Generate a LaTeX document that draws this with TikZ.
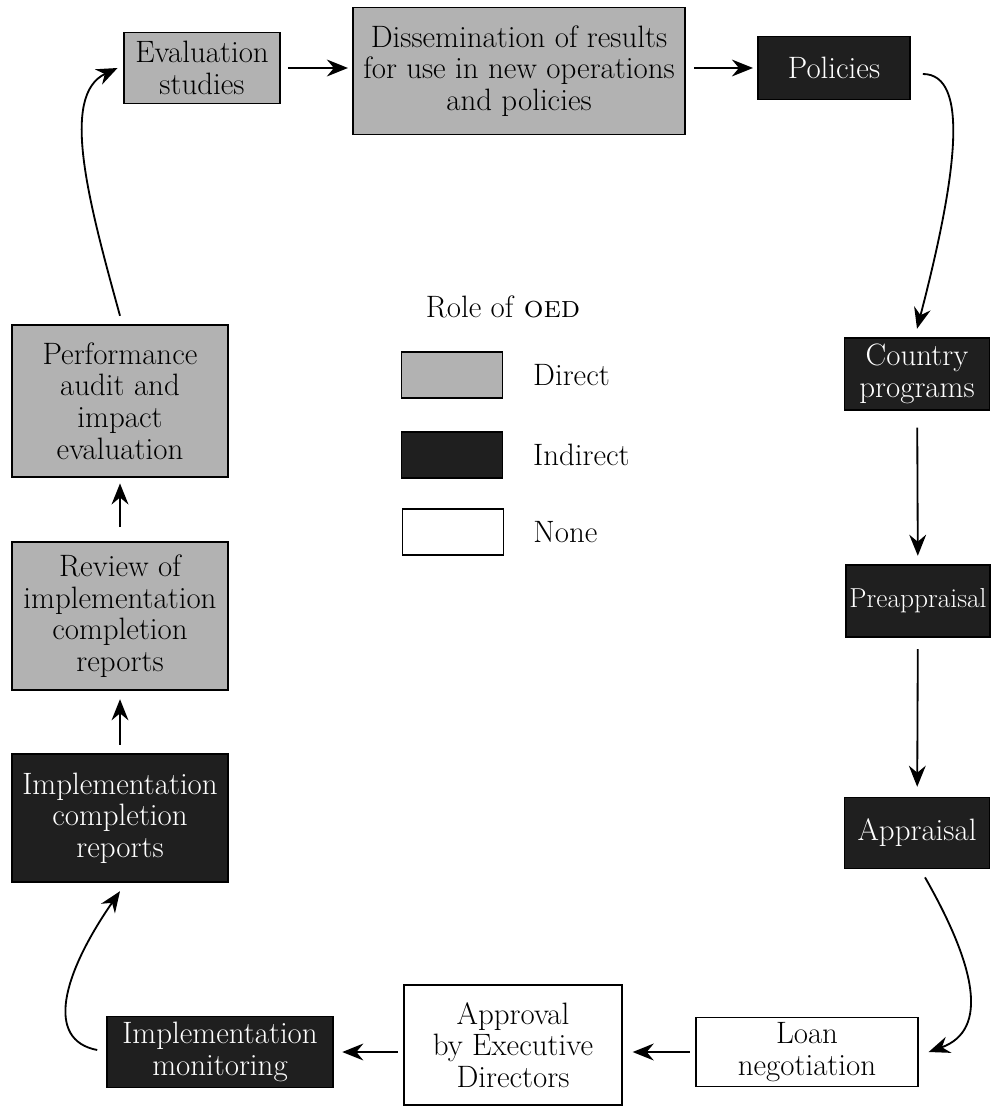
\documentclass[tikz,border=0pt]{standalone}
\usetikzlibrary{arrows.meta,positioning}

\tikzstyle{box}=[draw, line width=1.1pt, align=center, inner sep=0pt]
\tikzstyle{directrole}=[box, fill=black!30]
\tikzstyle{indirectrole}=[box, fill=black!88, text=white]
\tikzstyle{norole}=[box, fill=white]
\tikzstyle{legendbox}=[box, minimum width=2.53cm, minimum height=1.15cm]
\tikzstyle{link}=[line width=1.3pt, -{Stealth[length=15pt,width=12pt,inset=5pt]}]

\begin{document}
\begin{tikzpicture}[x=0.025cm, y=-0.025cm, font=\fontsize{22}{22.5}\selectfont]
\useasboundingbox (0,0) rectangle (990,1108);

% top row
\node[directrole, minimum width=3.9cm, minimum height=1.78cm] at (202,68) (eval) {Evaluation\\studies};
\node[directrole, minimum width=8.3cm, minimum height=3.18cm] at (519,71) (diss) {Dissemination of results\\for use in new operations\\and policies};
\node[indirectrole, minimum width=3.8cm, minimum height=1.58cm] at (834,68) (pol) {Policies};

% right column
\node[indirectrole, minimum width=3.63cm, minimum height=1.8cm] at (917,374) (country) {Country\\programs};
\node[indirectrole, minimum width=3.6cm, minimum height=1.8cm, font=\fontsize{19.5}{20}\selectfont] at (918,601) (preapp) {Preappraisal};
\node[indirectrole, minimum width=3.63cm, minimum height=1.78cm] at (917,833) (app) {Appraisal};

% bottom row
\node[norole, minimum width=5.55cm, minimum height=1.73cm] at (807,1052) (loan) {Loan\\negotiation};
\node[norole, minimum width=5.45cm, minimum height=3cm] at (513,1045) (approval) {Approval\\by Executive\\Directors};
\node[indirectrole, minimum width=5.65cm, minimum height=1.78cm] at (220,1052) (monit) {Implementation\\monitoring};

% left column
\node[indirectrole, minimum width=5.4cm, minimum height=3.2cm] at (120,818) (icr) {Implementation\\completion\\reports};
\node[directrole, minimum width=5.4cm, minimum height=3.7cm] at (120,616) (review) {Review of\\implementation\\completion\\reports};
\node[directrole, minimum width=5.4cm, minimum height=3.8cm] at (120,401) (perf) {Performance\\audit and\\impact\\evaluation};

% legend
\node at (503,307) (legtitle) {Role of \textsc{oed}};
\node[legendbox, directrole] at (452,375) (legdirect) {};
\node[legendbox, indirectrole] at (452,455) (legindirect) {};
\node[legendbox, norole] at (453,532) (legnone) {};
\node[right=0.62cm of legdirect] (legdirecttext) {Direct};
\node[right=0.62cm of legindirect] (legindirecttext) {Indirect};
\node[right=0.6cm of legnone] (legnonetext) {None};

% connectors
\draw[link, shorten <=5pt, shorten >=3pt] (eval.east) -- (eval.east -| diss.west);
\draw[link, shorten <=6pt, shorten >=3pt] (pol.west -| diss.east) -- (pol.west);
\draw[link] ([shift={(12,6)}]pol.east) .. controls (970,74) and (957,175) .. ([yshift=6pt]country.north);
\draw[link, shorten <=12pt, shorten >=6pt] (country) -- (preapp);
\draw[link, shorten <=8pt, shorten >=7pt] (preapp) -- (app);
\draw[link] ([shift={(8,8)}]app.south) .. controls (975,965) and (990,1030) .. ([xshift=7pt]loan.east);
\draw[link, shorten <=4pt, shorten >=7pt] (loan.west) -- (loan.west -| approval.east);
\draw[link, shorten <=4pt, shorten >=6pt] (monit.east -| approval.west) -- (monit.east);
\draw[link] ([shift={(-9,-2)}]monit.west) .. controls (45,1040) and (62,975) .. ([yshift=-6pt]icr.south);
\draw[link, shorten <=6pt, shorten >=6pt] (icr) -- (review);
\draw[link, shorten <=10pt, shorten >=4pt] (review) -- (perf);
\draw[link] ([yshift=6pt]perf.north) .. controls (88,200) and (60,95) .. ([xshift=-4pt]eval.west);
\end{tikzpicture}
\end{document}
